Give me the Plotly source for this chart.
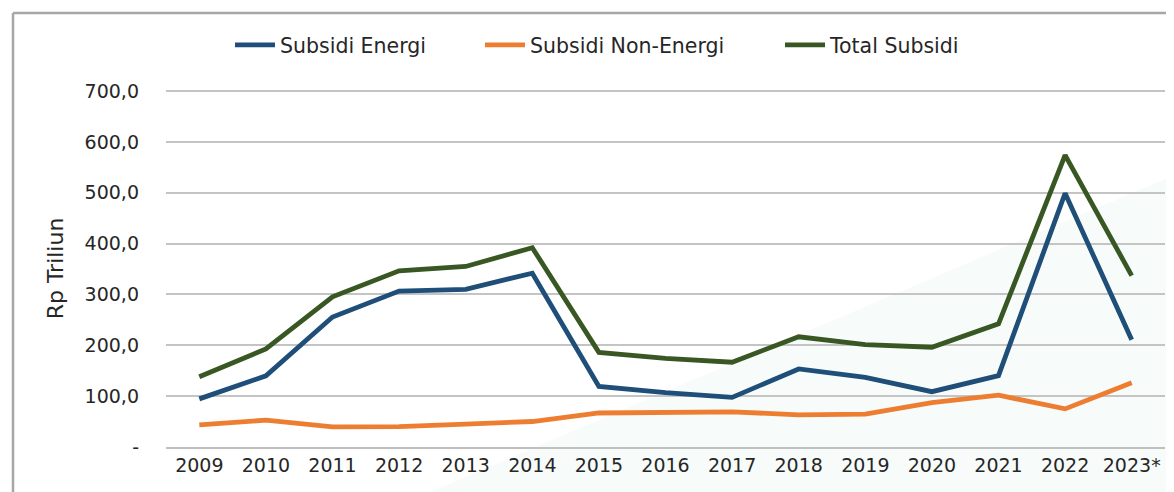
import plotly.graph_objects as go

years = ["2009", "2010", "2011", "2012", "2013", "2014", "2015", "2016",
         "2017", "2018", "2019", "2020", "2021", "2022", "2023*"]
energi = [94.6, 140.0, 255.6, 306.5, 310.0, 341.8, 119.1, 106.8,
          97.6, 153.5, 136.9, 108.8, 140.4, 499.0, 210.7]
non_energi = [43.5, 52.8, 39.7, 39.9, 45.0, 50.1, 66.9, 67.5,
              69.1, 63.3, 64.5, 87.3, 101.8, 75.0, 126.4]
total = [138.1, 192.8, 295.3, 346.4, 355.0, 391.9, 186.0, 174.3,
         166.7, 216.8, 201.4, 196.1, 242.2, 574.0, 337.1]

y_ticks = [0, 100, 200, 300, 400, 500, 600, 700]
y_ticktext = ["-", "100,0", "200,0", "300,0", "400,0", "500,0", "600,0", "700,0"]

OFF = 8  # default page body margin
W, H = 1174 - OFF, 492 - OFF
# target screen pixels: plot area x 166..1165, y 90..447
L, R, T, B = 166 - OFF, 1174 - 1165, 90 - OFF, 492 - 447
pw, ph = W - L - R, H - T - B


def px(x):
    return (x - OFF - L) / pw


def py(y):
    return (H - B - (y - OFF)) / ph


fig = go.Figure()
series = [
    ("Subsidi Energi", energi, "#1F4E79", "legend", 230),
    ("Subsidi Non-Energi", non_energi, "#ED7D31", "legend2", 480),
    ("Total Subsidi", total, "#385723", "legend3", 780),
]
legend_defs = {}
for name, vals, col, lg, lx in series:
    fig.add_trace(go.Scatter(
        x=years, y=vals, name=name, mode="lines", legend=lg,
        line=dict(color=col, width=4.8),
    ))
    legend_defs[lg] = dict(
        orientation="h", x=px(lx), xanchor="left",
        y=py(45), yanchor="middle",
        font=dict(size=20.5, family="DejaVu Sans", color="#262626"),
        itemwidth=40, bgcolor="rgba(0,0,0,0)")

shapes = [
    # faint decorative band
    dict(type="path", xref="paper", yref="paper", layer="below",
         path=f"M {px(430)} {py(492)} L {px(1174)} {py(175)} L {px(1174)} {py(492)} Z",
         fillcolor="rgba(190,230,215,0.12)", line=dict(width=0)),
    # frame
    dict(type="line", xref="paper", yref="paper",
         x0=px(13), x1=px(1180), y0=py(13), y1=py(13),
         line=dict(color="#A6A6A6", width=2.5)),
    dict(type="line", xref="paper", yref="paper",
         x0=px(13), x1=px(13), y0=py(13), y1=py(500),
         line=dict(color="#A6A6A6", width=2.5)),
]

fig.update_layout(
    width=W, height=H, autosize=False,
    margin=dict(l=L, r=R, t=T, b=B),
    paper_bgcolor="white", plot_bgcolor="rgba(0,0,0,0)",
    font=dict(family="DejaVu Sans", color="#262626"),
    shapes=shapes,
    showlegend=True,
    **legend_defs,
    xaxis=dict(type="category", range=[-0.5, 14.5], showgrid=False,
               showline=True, linecolor="#BFBFBF", linewidth=2,
               ticks="", tickfont=dict(size=19), zeroline=False,
               fixedrange=True),
    yaxis=dict(range=[0, 702], tickvals=y_ticks, ticktext=y_ticktext,
               showgrid=True, gridcolor="#C4C4C4", gridwidth=2,
               zeroline=False, showline=False, ticks="",
               ticklabelstandoff=26,
               tickfont=dict(size=19),
               title=dict(text="Rp Triliun", font=dict(size=22), standoff=14),
               fixedrange=True),
)

fig.write_html("out.html")
